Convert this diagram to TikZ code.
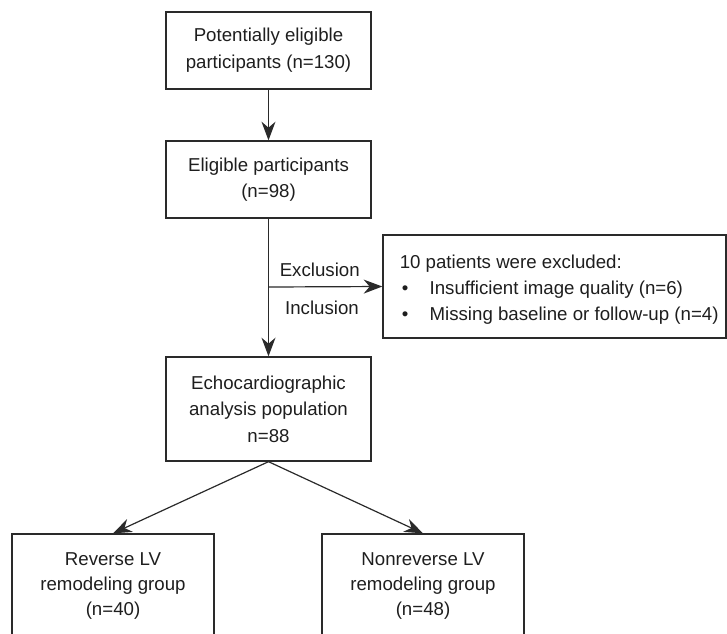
\documentclass[tikz,border=0pt]{standalone}
\usepackage{fontspec}
\setmainfont{Liberation Sans}
\usetikzlibrary{arrows.meta}
\definecolor{linecol}{HTML}{2A2A2A}
\definecolor{txtcol}{HTML}{1E1E1E}
\begin{document}
\begin{tikzpicture}[x=0.75pt,y=-0.75pt,
  box/.style={draw=linecol, line width=1pt, align=center, inner sep=0pt,
    text=txtcol, font=\fontsize{14}{20}\selectfont},
  conn/.style={draw=linecol, line width=0.9pt, -{Stealth[length=14pt,width=10.5pt,inset=4.5pt]}},
  lbl/.style={text=txtcol, font=\fontsize{14}{20}\selectfont, inner sep=0pt}]
\useasboundingbox (0,0) rectangle (727,633);
\clip (0,0) rectangle (727,633);
\node[box, minimum width=153.75pt, minimum height=57.75pt] (n1) at (268.5,50.5)
  {Potentially eligible\\participants (n=130)};
\node[box, minimum width=153.75pt, minimum height=57.75pt] (n2) at (268.5,179.5)
  {Eligible participants\\(n=98)};
\node[box, minimum width=153.75pt, minimum height=78pt] (n3) at (268.5,409)
  {Echocardiographic\\analysis population\\n=88};
\node[box, minimum width=257.25pt, minimum height=77.25pt] (ex) at (554.5,286.5) {};
\node[lbl, anchor=west] (extext) at (399.5,289)
  {\begin{tabular}{@{}l@{\hspace{16pt}}l@{}}
   \multicolumn{2}{@{}l@{}}{10 patients were excluded:}\\[-0.5pt]
   \hspace*{1.5pt}\textbullet & Insufficient image quality (n=6)\\[-0.5pt]
   \hspace*{1.5pt}\textbullet & Missing baseline or follow-up (n=4)
   \end{tabular}};
\node[box, minimum width=151.5pt, minimum height=78pt, font=\fontsize{14}{18.5}\selectfont] (b1) at (113,586)
  {Reverse LV\\remodeling group\\(n=40)};
\node[box, minimum width=151.5pt, minimum height=78pt, font=\fontsize{14}{18.5}\selectfont] (b2) at (423,586)
  {Nonreverse LV\\remodeling group\\(n=48)};
\coordinate (split) at (268.5,287);
\draw[conn] (n1.south) -- (n2.north);
\draw[conn] (n2.south) -- (n3.north);
\draw[conn] (split) -- node[lbl, pos=0.45, above=7pt] {Exclusion}
  node[lbl, pos=0.47, below=10pt] {Inclusion} (ex.west);
\draw[conn] (n3.south) -- (b1.north);
\draw[conn] (n3.south) -- (b2.north);
\end{tikzpicture}
\end{document}
